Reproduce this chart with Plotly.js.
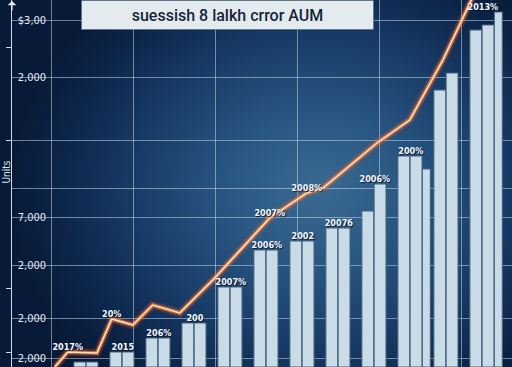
<!DOCTYPE html>
<html>
<head>
<meta charset="utf-8">
<script src="https://cdn.plot.ly/plotly-3.0.1.min.js"></script>
<style>
  html, body { margin: 0; padding: 0; background: #0a1c3a; }
  #chart {
    width: 512px; height: 367px;
    background:
      radial-gradient(ellipse 60% 70% at 62% 52%, #3a6a92 0%, #285681 30%, #173b66 60%, #0c2448 85%, #081a37 100%);
  }
</style>
</head>
<body>
<div id="chart"></div>
<script>
// Year groups along the x axis
const years = [2013, 2014, 2015, 2016, 2017, 2018, 2019, 2020, 2021, 2022, 2023, 2024];

// AUM per group (lakh crore): two bars per year, a third in some years
const aumA = [0.5, 1.5, 2.9, 4.4, 8.0, 11.7, 12.6, 13.9, 15.6, 21.1, 27.7, 33.7];
const aumB = [0.5, 1.5, 2.9, 4.4, 8.0, 11.7, 12.6, 13.9, 18.3, 21.1, 29.4, 34.2];
const aumC = [null, null, null, null, null, null, null, null, null, 19.8, null, 35.5];
const barLabels = ['', '2015', '206%', '200', '2007%', '2006%', '2002', '2007б', '2006%', '200%', '', '2013%'];

// Growth trend line
const trendX = [2012.11, 2012.47, 2013.28, 2013.69, 2014.28, 2014.83, 2015.58, 2016.50,
                2018.08, 2019.11, 2019.56, 2021.06, 2021.97, 2022.89, 2023.72];
const trendY = [0, 1.5, 1.4, 4.8, 4.2, 6.2, 5.4, 8.7, 14.9, 17.4, 17.9, 22.4, 24.7, 30.7, 37.0];
const trendLabels = ['', '2017%', '', '20%', '', '', '', '', '2007%', '2008%', '', '', '', '', ''];

// Y axis ticks
const yTickVals = [34.7, 29.0, 22.7, 17.9, 15.0, 10.2, 4.9, 0.9];
const yTickText = ['$3,00', '2,000', '', '', '7,000', '2,000', '2,000', '2,000'];
const yMinorTicks = [32.0, 22.7, 7.9, 1.5];

const titleText = 'suessish 8 lalkh crror AUM';
const yTitle = 'Units';

// group maxima for label placement
const groupTop = years.map((_, i) => Math.max(aumA[i], aumB[i], aumC[i] == null ? 0 : aumC[i]));

const barStyle = {
  color: '#c9dbe6',
  line: { color: '#45637f', width: 1 }
};

const labelFont = {
  family: 'DejaVu Sans Condensed, DejaVu Sans, sans-serif',
  size: 9, color: '#f4f8fc', weight: 'bold',
  shadow: '1px 1px 1px #0a1a33'
};

const traces = [
  { type: 'bar', x: years, y: aumA, offset: -0.36, width: 0.33, marker: barStyle, hoverinfo: 'skip' },
  { type: 'bar', x: years, y: aumB, offset: -0.02, width: 0.33, marker: barStyle, hoverinfo: 'skip' },
  { type: 'bar', x: years, y: aumC, offset: 0.32, width: 0.22, marker: barStyle, hoverinfo: 'skip' },
  // glow layers of the trend line
  { type: 'scatter', mode: 'lines', x: trendX, y: trendY,
    line: { color: 'rgba(255,90,30,0.22)', width: 8 }, hoverinfo: 'skip' },
  { type: 'scatter', mode: 'lines', x: trendX, y: trendY,
    line: { color: 'rgba(255,130,60,0.7)', width: 4 }, hoverinfo: 'skip' },
  { type: 'scatter', mode: 'lines+text', x: trendX, y: trendY,
    line: { color: '#ffe6c4', width: 1.5 },
    text: trendLabels, textposition: 'top center', textfont: labelFont,
    cliponaxis: true, hoverinfo: 'skip' },
  // labels above bar groups
  { type: 'scatter', mode: 'text', x: years, y: groupTop, text: barLabels,
    textposition: 'top center', textfont: labelFont, cliponaxis: false, hoverinfo: 'skip' }
];

const layout = {
  width: 512, height: 367,
  margin: { l: 12, r: 0, t: 0, b: 0 },
  paper_bgcolor: 'rgba(0,0,0,0)',
  plot_bgcolor: 'rgba(0,0,0,0)',
  showlegend: false,
  barmode: 'overlay',
  xaxis: {
    range: [2010.92, 2024.81],
    showticklabels: false,
    tickmode: 'linear', tick0: 2012.03, dtick: 2.278,
    showgrid: true, gridcolor: 'rgba(195,215,235,0.55)', gridwidth: 1,
    zeroline: false, ticks: ''
  },
  yaxis: {
    range: [0, 36.7],
    tickmode: 'array', tickvals: yTickVals, ticktext: yTickText,
    ticklabelposition: 'inside', ticklabeloverflow: 'allow', ticklabelstandoff: 5, ticks: '',
    tickfont: { family: 'DejaVu Sans Condensed, DejaVu Sans, sans-serif', size: 11, color: '#e6edf5' },
    showgrid: true, gridcolor: 'rgba(195,215,235,0.55)', gridwidth: 1,
    showline: true, linecolor: '#cfdbe8', linewidth: 1.5,
    zeroline: false,
    minor: { tickmode: 'array', tickvals: yMinorTicks, ticks: 'outside', ticklen: 5,
             tickcolor: '#cfdbe8', showgrid: false },
    automargin: false
  },
  annotations: [
    {
      xref: 'paper', yref: 'paper', x: 0.43, y: 1, xanchor: 'center', yanchor: 'top',
      text: titleText, showarrow: false,
      font: { family: 'Roboto, Arial, sans-serif', size: 16, color: '#16263a', weight: 500 },
      bgcolor: '#e4ebef', bordercolor: 'rgba(90,110,130,0.7)', borderwidth: 1,
      width: 291, height: 28, borderpad: 0
    },
    {
      xref: 'paper', yref: 'paper', x: -0.012, y: 0.53, xanchor: 'center', yanchor: 'middle',
      text: yTitle, showarrow: false, textangle: -90,
      font: { family: 'DejaVu Sans Condensed, sans-serif', size: 10, color: '#dfe8f2' }
    },
    {
      // arrow tip of the vertical axis
      xref: 'paper', yref: 'paper', x: 0, y: 1, ax: 0, ay: 12,
      showarrow: true, arrowhead: 1, arrowsize: 1.2, arrowwidth: 1.2, arrowcolor: '#dfe8f2', text: ''
    }
  ]
};

Plotly.newPlot('chart', traces, layout, { displayModeBar: false, staticPlot: true });
</script>
</body>
</html>
